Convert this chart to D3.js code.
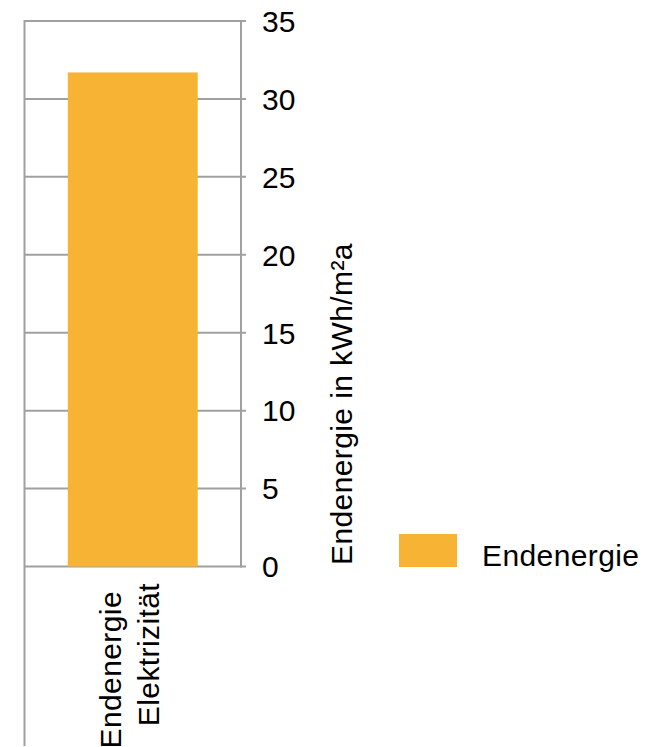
<!DOCTYPE html>
<html>
<head>
<meta charset="utf-8">
<script src="https://cdn.jsdelivr.net/npm/d3@7"></script>
<style>
  body { margin: 0; background: #fff; }
  text { font-family: 'Liberation Sans', Arial, Helvetica, sans-serif; fill: #000; letter-spacing: 0.4px; }
</style>
</head>
<body>
<svg id="chart" width="646" height="747"></svg>
<script>
// data
const categories = ['Endenergie Elektrizität']
const categoryLines = [['Endenergie', 'Elektrizität']]
const values = [31.7]
const yTicks = [0, 5, 10, 15, 20, 25, 30, 35]
const seriesName = 'Endenergie'
const yTitle = 'Endenergie in kWh/m²a'

const width = 646
const height = 747
const color = '#f7b334'
const gridColor = '#a0a0a0'
const fontSize = 30

const margin = { top: 21, left: 24.5, right: 405, bottom: 566.5 }

const svg = d3.select('#chart')

const x = d3
  .scaleBand()
  .domain(categories)
  .range([margin.left, margin.right - 164])
  .padding(0.25)

const y = d3.scaleLinear().domain([0, 35]).range([margin.bottom, margin.top])

const axisX = x.range()[1]

// gridlines
svg
  .append('g')
  .attr('class', 'grid')
  .selectAll('line')
  .data(yTicks)
  .join('line')
  .attr('x1', margin.left)
  .attr('x2', axisX + 5)
  .attr('y1', (d) => y(d))
  .attr('y2', (d) => y(d))
  .attr('stroke', gridColor)
  .attr('stroke-width', 2)

// left border, runs down past the plot
svg
  .append('line')
  .attr('x1', margin.left)
  .attr('x2', margin.left)
  .attr('y1', margin.top - 1)
  .attr('y2', height - 1)
  .attr('stroke', gridColor)
  .attr('stroke-width', 2)

// right axis line
svg
  .append('line')
  .attr('x1', axisX)
  .attr('x2', axisX)
  .attr('y1', margin.top - 1)
  .attr('y2', margin.bottom + 1)
  .attr('stroke', gridColor)
  .attr('stroke-width', 2)

// bars
svg
  .selectAll('rect.bar')
  .data(values)
  .join('rect')
  .attr('class', 'bar')
  .attr('x', (d, i) => x(categories[i]))
  .attr('width', x.bandwidth())
  .attr('y', (d) => y(d))
  .attr('height', (d) => y(0) - y(d))
  .attr('fill', color)

// tick labels
svg
  .append('g')
  .selectAll('text')
  .data(yTicks)
  .join('text')
  .attr('x', axisX + 21)
  .attr('y', (d) => y(d))
  .attr('dy', '0.36em')
  .style('font-size', fontSize + 'px')
  .style('letter-spacing', '0px')
  .text((d) => d)

// y axis title
svg
  .append('text')
  .attr('transform', `translate(352,565) rotate(-90)`)
  .attr('text-anchor', 'start')
  .style('font-size', fontSize + 'px')
  .text(yTitle)

// category labels, rotated and split in lines
const lineOffsets = [
  { x: 122, y: 591 },
  { x: 160, y: 583 },
]
categoryLines.forEach((lines, i) => {
  const cx = x(categories[i]) + x.bandwidth() / 2
  lines.forEach((line, j) => {
    svg
      .append('text')
      .attr(
        'transform',
        `translate(${cx - 134 + lineOffsets[j].x},${lineOffsets[j].y}) rotate(-90)`
      )
      .attr('text-anchor', 'end')
      .style('font-size', fontSize + 'px')
      .text(line)
  })
})

// legend
const legend = svg.append('g').attr('transform', 'translate(399,534)')
legend.append('rect').attr('width', 58).attr('height', 33).attr('fill', color)
legend
  .append('text')
  .attr('x', 83)
  .attr('y', 32)
  .style('font-size', fontSize + 'px')
  .text(seriesName)
</script>
</body>
</html>
